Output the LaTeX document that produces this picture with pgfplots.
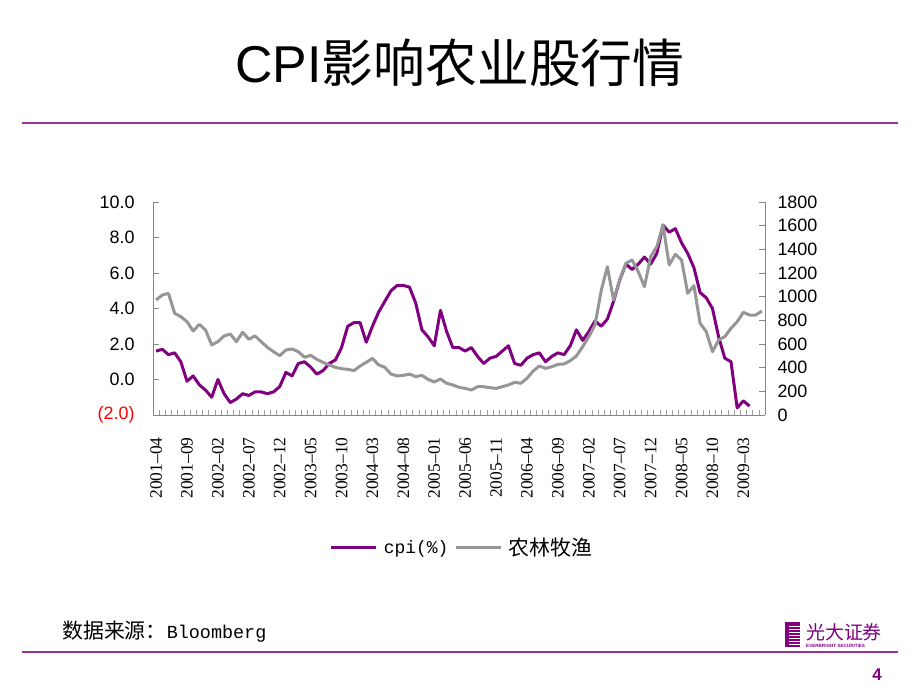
\documentclass[border=0pt]{standalone}
\usepackage{pgfplots}
\pgfplotsset{compat=1.18}
\usepackage{pgfplotstable}
\usepackage{fontspec}
\setmainfont{Liberation Sans}
\newfontfamily\cjk{Noto Sans CJK SC}
\newfontfamily\serifnum{Liberation Serif}
\newfontfamily\monof{Liberation Mono}
\definecolor{cpipurple}{RGB}{128,0,128}
\definecolor{agrigray}{RGB}{150,150,150}
\definecolor{axisgray}{RGB}{134,134,134}
\definecolor{rulepurple}{RGB}{153,51,153}

\pgfplotstableread{
i v
0 1.6
1 1.7
2 1.4
3 1.5
4 1.0
5 -0.1
6 0.2
7 -0.3
8 -0.6
9 -1.0
10 0.0
11 -0.8
12 -1.3
13 -1.1
14 -0.8
15 -0.9
16 -0.7
17 -0.7
18 -0.8
19 -0.7
20 -0.4
21 0.4
22 0.2
23 0.9
24 1.0
25 0.7
26 0.3
27 0.5
28 0.9
29 1.1
30 1.8
31 3.0
32 3.2
33 3.2
34 2.1
35 3.0
36 3.8
37 4.4
38 5.0
39 5.3
40 5.3
41 5.2
42 4.3
43 2.8
44 2.4
45 1.9
46 3.9
47 2.7
48 1.8
49 1.8
50 1.6
51 1.8
52 1.3
53 0.9
54 1.2
55 1.3
56 1.6
57 1.9
58 0.9
59 0.8
60 1.2
61 1.4
62 1.5
63 1.0
64 1.3
65 1.5
66 1.4
67 1.9
68 2.8
69 2.2
70 2.7
71 3.3
72 3.0
73 3.4
74 4.4
75 5.6
76 6.5
77 6.2
78 6.5
79 6.9
80 6.5
81 7.1
82 8.7
83 8.3
84 8.5
85 7.7
86 7.1
87 6.3
88 4.9
89 4.6
90 4.0
91 2.4
92 1.2
93 1.0
94 -1.6
95 -1.2
96 -1.5
}\cpidata

\pgfplotstableread{
i v
0 972
1 1014
2 1028
3 859
4 831
5 789
6 710
7 766
8 718
9 592
10 620
11 668
12 684
13 620
14 699
15 640
16 668
17 620
18 572
19 535
20 501
21 549
22 558
23 535
24 488
25 504
26 470
27 445
28 423
29 403
30 391
31 386
32 375
33 414
34 445
35 479
36 423
37 403
38 346
39 330
40 335
41 346
42 324
43 335
44 301
45 279
46 304
47 268
48 254
49 234
50 225
51 211
52 239
53 239
54 231
55 225
56 239
57 254
58 276
59 268
60 310
61 372
62 414
63 394
64 408
65 428
66 431
67 459
68 499
69 577
70 662
71 761
72 1050
73 1253
74 972
75 1141
76 1282
77 1310
78 1211
79 1084
80 1338
81 1422
82 1606
83 1268
84 1358
85 1310
86 1028
87 1093
88 775
89 704
90 535
91 634
92 662
93 733
94 788
95 868
96 845
97 845
98 879
}\agridata

\begin{document}
\begin{tikzpicture}
\fill[white] (0,0) rectangle (920bp,690bp);
\useasboundingbox (0,0) rectangle (920bp,690bp);
% title
\node[anchor=base, inner sep=0pt] at (460bp,607bp) {\fontsize{52}{52}\selectfont CPI{\cjk 影响农业股行情}};
\draw[rulepurple, line width=2.5bp] (22bp,567bp) -- (898bp,567bp);
% footer
\draw[rulepurple, line width=2.5bp] (22bp,38bp) -- (898bp,38bp);
\node[anchor=base west, inner sep=0pt] at (62bp,51bp) {{\cjk\fontsize{21}{21}\selectfont 数据来源：}{\monof\fontsize{18.5}{18.5}\selectfont Bloomberg}};
\node[anchor=base, inner sep=0pt, text=cpipurple] at (877bp,10bp) {\fontsize{17}{17}\selectfont\bfseries 4};
% logo
\fill[cpipurple] (785bp,43bp) rectangle (800bp,68bp);
\foreach \yy in {46,49,52,55,58,61,64} {\draw[white, line width=0.8bp] (789bp,\yy bp) -- (800bp,\yy bp);}
\node[anchor=west, inner sep=0pt, text=cpipurple] at (806bp,58bp) {\cjk\fontsize{19}{19}\selectfont 光大证券};
\node[anchor=west, inner sep=0pt, text=cpipurple] at (806bp,44bp) {\fontsize{4.6}{5}\selectfont\bfseries EVERBRIGHT SECURITIES};

\begin{axis}[
  at={(153bp,275bp)}, anchor=south west,
  scale only axis, width=612bp, height=213bp,
  xmin=-0.5, xmax=98.5, ymin=-2, ymax=10,
  axis x line*=bottom, axis y line*=left,
  axis line style={axisgray, line width=0.8bp},
  xtick={0,5,...,95},
  xticklabels={2001–04,2001–09,2002–02,2002–07,2002–12,2003–05,2003–10,2004–03,2004–08,2005–01,2005–06,2005–11,2006–04,2006–09,2007–02,2007–07,2007–12,2008–05,2008–10,2009–03},
  major x tick style={draw=none},
  minor xtick={-0.5,0.5,...,98.5},
  minor x tick style={axisgray!80, line width=0.6bp},
  minor tick length=5bp,
  major tick length=6bp,
  ytick={-2,0,...,10},
  yticklabels={{\color{red}(2.0)},0.0,2.0,4.0,6.0,8.0,10.0},
  y tick style={axisgray, line width=0.8bp},
  xticklabel style={rotate=90, anchor=east, font=\serifnum\fontsize{17.5}{17.5}\selectfont},
  xticklabel shift=19bp,
  yticklabel style={font=\fontsize{18}{18}\selectfont},
  yticklabel shift=15bp,
  clip=false,
]
\addplot[cpipurple, line width=3bp, line join=round] table[x=i, y=v] {\cpidata};
\end{axis}

\begin{axis}[
  at={(153bp,275bp)}, anchor=south west,
  scale only axis, width=612bp, height=213bp,
  xmin=-0.5, xmax=98.5, ymin=0, ymax=1800,
  axis x line=none, axis y line*=right,
  axis line style={axisgray, line width=0.8bp},
  ytick={0,200,400,600,800,1000,1200,1400,1600,1800},
  yticklabels={0,200,400,600,800,1000,1200,1400,1600,1800},
  y tick style={axisgray, line width=0.8bp},
  major tick length=6bp,
  yticklabel style={font=\fontsize{18}{18}\selectfont},
  yticklabel shift=9bp,
  clip=false,
  legend style={at={(0.505,-0.624)}, anchor=center, draw=none, fill=none,
    legend columns=2, font=\fontsize{21}{21}\selectfont,
    /tikz/every odd column/.style={column sep=4bp},
    /tikz/every even column/.style={column sep=4bp}},
  legend image code/.code={\draw[#1] (0bp,0bp) -- (45bp,0bp);},
]
\addlegendimage{cpipurple, line width=3bp}
\addlegendentry{\monof\fontsize{18}{18}\selectfont cpi(\%)}
\addplot[agrigray, line width=3bp, line join=round] table[x=i, y=v] {\agridata};
\addlegendentry{\cjk 农林牧渔}
\end{axis}
\end{tikzpicture}
\end{document}
